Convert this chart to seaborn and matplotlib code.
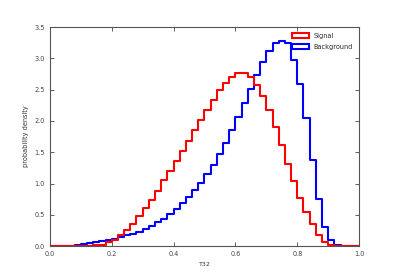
import numpy as np
import pandas as pd
import matplotlib
matplotlib.use("Agg")
import matplotlib.pyplot as plt
import matplotlib.patches as mpatches
import seaborn as sns

# bin edges of the histograms (50 bins of width 0.02)
bin_edges = np.linspace(0.0, 1.0, 51)

# probability density per bin
signal_density = [
    0.0, 0.0, 0.0, 0.0, 0.0, 0.005, 0.005, 0.01, 0.02, 0.07,
    0.10, 0.18, 0.26, 0.36, 0.48, 0.61, 0.74, 0.88, 1.05, 1.20,
    1.36, 1.52, 1.68, 1.85, 2.01, 2.18, 2.34, 2.49, 2.61, 2.71,
    2.76, 2.76, 2.71, 2.57, 2.40, 2.18, 1.91, 1.61, 1.31, 1.04,
    0.77, 0.55, 0.35, 0.18, 0.07, 0.02, 0.005, 0.0, 0.0, 0.0,
]
background_density = [
    0.003, 0.004, 0.005, 0.005, 0.02, 0.03, 0.05, 0.06, 0.08, 0.10,
    0.12, 0.14, 0.17, 0.20, 0.23, 0.27, 0.32, 0.38, 0.44, 0.51,
    0.59, 0.69, 0.78, 0.89, 1.01, 1.15, 1.30, 1.47, 1.65, 1.86,
    2.06, 2.29, 2.51, 2.73, 2.95, 3.12, 3.25, 3.28, 3.24, 2.98,
    2.59, 2.04, 1.38, 0.76, 0.31, 0.09, 0.02, 0.005, 0.003, 0.002,
]
labels = ["Signal", "Background"]
colors = ["#ff0000", "#0000ff"]

centers = (bin_edges[:-1] + bin_edges[1:]) / 2
df = pd.DataFrame({
    "x": np.concatenate([centers, centers]),
    "density": np.concatenate([signal_density, background_density]),
    "sample": [labels[0]] * len(centers) + [labels[1]] * len(centers),
})

sns.set_style("ticks")
plt.rcParams["font.family"] = ["DejaVu Sans"]

fig = plt.figure(figsize=(3.99, 2.74), dpi=100)
ax = fig.add_axes([0.125, 0.102, 0.775, 0.799])

sns.histplot(data=df, x="x", weights="density", hue="sample", hue_order=labels,
             palette=colors, bins=list(bin_edges), element="step", fill=False,
             stat="count", linewidth=1.5, alpha=1, legend=False, ax=ax)

ax.set_xlim(0, 1)
ax.set_ylim(0, 3.5)
ax.set_xticks(np.arange(0, 1.01, 0.2))
ax.set_yticks(np.arange(0, 3.51, 0.5))
ax.set_xlabel("T32", fontsize=4.5, color="#333333")
ax.set_ylabel("probability density", fontsize=4.7, color="#333333")
ax.tick_params(direction="in", top=True, right=True, labelsize=4.7,
               length=3, width=0.6, colors="#444444", labelcolor="#444444")
for s in ax.spines.values():
    s.set_linewidth(0.8)
    s.set_color("#555555")

# outlined boxes as legend keys, like the step outlines
handles = [mpatches.Patch(facecolor="none", edgecolor=c, linewidth=1.5, label=l)
           for c, l in zip(colors, labels)]
ax.legend(handles=handles, loc="upper right", frameon=False, fontsize=4.7,
          handlelength=2.5, handleheight=0.8, handletextpad=0.8,
          labelspacing=0.7, borderaxespad=0.5)

fig.savefig("out.png", dpi=100)
